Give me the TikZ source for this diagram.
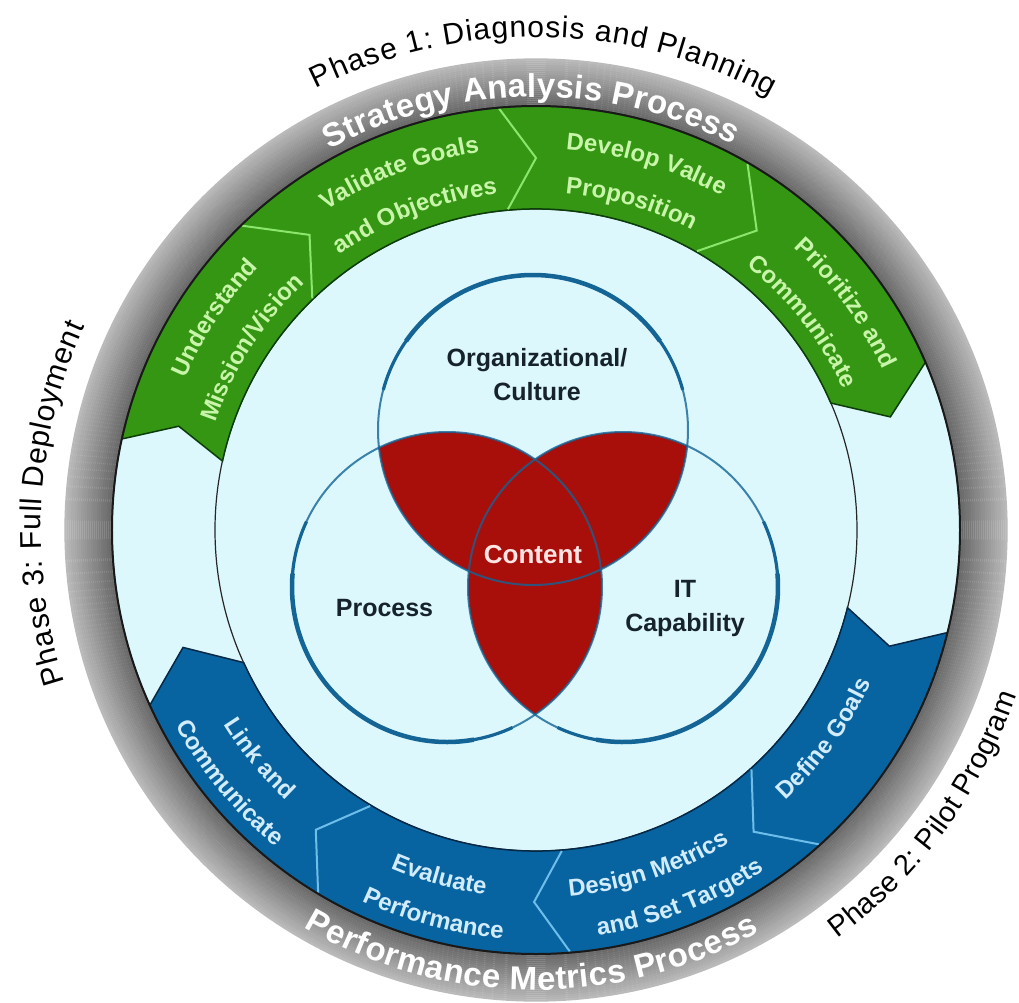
\documentclass[tikz,border=0pt]{standalone}
\usepackage{fontspec}
\setmainfont{Liberation Sans}
\usetikzlibrary{decorations.text}
\definecolor{cyanbg}{RGB}{220,248,252}
\definecolor{bandgreen}{RGB}{52,150,18}
\definecolor{bandgreenline}{RGB}{12,60,10}
\definecolor{gsep}{RGB}{140,230,110}
\definecolor{gtxt}{RGB}{200,245,170}
\definecolor{bandblue}{RGB}{8,100,160}
\definecolor{bandblueline}{RGB}{5,40,70}
\definecolor{bsep}{RGB}{110,190,235}
\definecolor{btxt}{RGB}{210,236,252}
\definecolor{vennred}{RGB}{168,14,10}
\definecolor{vennblue}{RGB}{20,100,150}
\definecolor{venntxt}{RGB}{22,34,44}
\definecolor{contenttxt}{RGB}{255,228,228}
\newcommand\segf{\fontsize{24}{28}\selectfont\bfseries}
\newcommand\ringf{\fontsize{33}{38}\selectfont\bfseries}
\newcommand\phasef{\fontsize{30}{36}\selectfont}
\newcommand\vennf{\fontsize{25}{34}\selectfont\bfseries}
% text along an arc, clockwise (letter tops outward), centred at angle #1
\newcommand\cwtext[4]{\path[decorate,decoration={text along path,text align=center,text={|#3|#4}}] ({#1+40}:#2) arc[start angle={#1+40},end angle={#1-40},radius=#2];}
% text along an arc, counter-clockwise (letter tops inward)
\newcommand\ccwtext[4]{\path[decorate,decoration={text along path,text align=center,text={|#3|#4}}] ({#1-40}:#2) arc[start angle={#1-40},end angle={#1+40},radius=#2];}
% text fitted to an arc from #1 to #2
\newcommand\fittext[5]{\path[decorate,decoration={text along path,text align=fit to path,text={|#4|#5}}] (#1:#3) arc[start angle=#1,end angle=#2,radius=#3];}
\tikzset{
  sepgreen/.style={gsep,line width=2},
  sepblue/.style={bsep,line width=2},
  vlabel/.style={venntxt,font=\vennf,align=center,inner sep=0pt},
  vcircle/.style={vennblue,line width=2,opacity=.8},
  vthick/.style={vennblue,line width=4.5}
}
\begin{document}
\begin{tikzpicture}[x=1pt,y=1pt]
\useasboundingbox (-536,-472) rectangle (483,530);
\fill[white] (-536,-472) rectangle (483,530);
% light background disc
\fill[cyanbg] (0,0) circle[radius=425];
\draw[black!85,line width=1.2] (0,0) circle[radius=321];
% green band (Strategy Analysis Process)
\filldraw[fill=bandgreen,draw=bandgreenline,line width=1.5]
  (167.6:424) arc[start angle=167.6,end angle=23.3,radius=424] -- (17.7:372) -- (23.3:321)
  arc[start angle=23.3,end angle=167.6,radius=321] -- (163.8:372) -- cycle;
\foreach \c/\p in {134/127.5,95/90,60/53.6}
  \draw[sepgreen] (\c:423) -- (\p:372) -- (\c:322);
% blue band (Performance Metrics Process)
\filldraw[fill=bandblue,draw=bandblueline,line width=1.5]
  (-14:424) arc[start angle=-14,end angle=-155.6,radius=424] -- (-161.6:372) -- (-155.6:321)
  arc[start angle=-155.6,end angle=-14,radius=321] -- (-18.2:372) -- cycle;
\foreach \c/\p in {-48/-54.2,-85.4/-90.3,-121/-126.3}
  \draw[sepblue] (\c:423) -- (\p:372) -- (\c:322);
% green texts
\cwtext{146.6}{382}{\segf\color{gtxt}}{Understand}
\cwtext{147.3}{338}{\segf\color{gtxt}}{Mission/Vision}
\cwtext{110.9}{382}{\segf\color{gtxt}}{Validate Goals}
\cwtext{111}{338}{\segf\color{gtxt}}{and Objectives}
\cwtext{73.2}{382}{\segf\color{gtxt}}{Develop Value}
\cwtext{73.7}{338}{\segf\color{gtxt}}{Proposition}
\cwtext{36.2}{382}{\segf\color{gtxt}}{Prioritize and}
\cwtext{38}{338}{\segf\color{gtxt}}{Communicate}
% blue texts
\ccwtext{-35.9}{368}{\segf\color{btxt}}{Define Goals}
\ccwtext{-71.5}{368}{\segf\color{btxt}}{Design Metrics}
\ccwtext{-68.7}{410}{\segf\color{btxt}}{and Set Targets}
\ccwtext{-105.6}{368}{\segf\color{btxt}}{Evaluate}
\ccwtext{-104.9}{410}{\segf\color{btxt}}{Performance}
\ccwtext{-140.4}{368}{\segf\color{btxt}}{Link and}
\ccwtext{-140.5}{410}{\segf\color{btxt}}{Communicate}
% grey ring
\foreach \i in {0,...,23}{
  \pgfmathtruncatemacro\k{60-1.4*\i}
  \draw[black!\k,line width=2.3] (0,0) circle[radius={424.5+2*\i}];
}
\draw[black!90,line width=2] (0,0) circle[radius=424];
\fittext{118.5}{62.9}{433}{\ringf\color{white}}{Strategy Analysis Process}
\fittext{-120.3}{-61}{460}{\ringf\color{white}}{Performance Metrics Process}
% phase labels
\fittext{116.5}{61.6}{493}{\phasef\color{black}}{Phase 1: Diagnosis and Planning}
\fittext{197.9}{155.7}{495}{\phasef\color{black}}{Phase 3: Full Deployment}
\fittext{-53.6}{-19}{508}{\fontsize{29}{34}\selectfont\color{black}}{Phase 2: Pilot Program}
% Venn diagram
\coordinate (T) at (-3,100);
\coordinate (L) at (-89,-57);
\coordinate (R) at (87,-57);
\begin{scope}
  \clip (T) circle[radius=155];
  \fill[vennred] (L) circle[radius=155];
  \fill[vennred] (R) circle[radius=155];
\end{scope}
\begin{scope}
  \clip (L) circle[radius=155];
  \fill[vennred] (R) circle[radius=155];
\end{scope}
\draw[vcircle] (T) circle[radius=155];
\draw[vcircle] (L) circle[radius=155];
\draw[vcircle] (R) circle[radius=155];
\draw[vennblue,line width=3.2] (T) ++(15:155) arc[start angle=15,end angle=165,radius=155];
\draw[vthick] (T) ++(35:155) arc[start angle=35,end angle=145,radius=155];
\draw[vennblue,line width=3.2] (L) ++(155:155) arc[start angle=155,end angle=295,radius=155];
\draw[vthick] (L) ++(175:155) arc[start angle=175,end angle=280,radius=155];
\draw[vennblue,line width=3.2] (R) ++(-115:155) arc[start angle=-115,end angle=25,radius=155];
\draw[vthick] (R) ++(-100:155) arc[start angle=-100,end angle=5,radius=155];
\node[vlabel] (org) at (1,155) {Organizational/\\Culture};
\node[vlabel] (proc) at (-151.5,-78) {Process};
\node[vlabel] (itc) at (149,-78.5) {IT\\Capability};
\node[vlabel,text=contenttxt,font=\fontsize{26}{30}\selectfont\bfseries] (content) at (-3,-25) {Content};
\end{tikzpicture}
\end{document}
